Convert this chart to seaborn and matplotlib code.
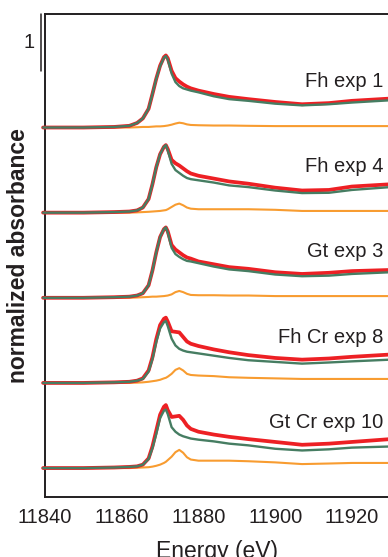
import matplotlib
matplotlib.use("Agg")
import matplotlib.pyplot as plt
import seaborn as sns
import pandas as pd

sns.set_style("white")
plt.rcParams['font.family'] = ['Liberation Sans', 'DejaVu Sans']

# ---- data ----
energy = [11839.5, 11850, 11858, 11862, 11864, 11865.5, 11867, 11868, 11869, 11870,
          11871, 11871.5, 11872, 11873, 11874, 11875, 11876, 11877, 11878, 11880,
          11884, 11888, 11893, 11900, 11907, 11914, 11920, 11930]

samples = ["Fh exp 1", "Fh exp 4", "Gt exp 3", "Fh Cr exp 8", "Gt Cr exp 10"]
offsets = [6.0, 4.5, 3.0, 1.5, 0.0]

measured = {
    "Fh exp 1":    [0, 0, 0.01, 0.03, 0.08, 0.16, 0.33, 0.59, 0.86, 1.09, 1.24, 1.27, 1.22, 1.00, 0.87, 0.81, 0.76, 0.72, 0.69, 0.65, 0.59, 0.54, 0.50, 0.45, 0.41, 0.43, 0.47, 0.51],
    "Fh exp 4":    [0, 0, 0.01, 0.02, 0.04, 0.09, 0.24, 0.50, 0.80, 1.03, 1.16, 1.19, 1.12, 0.93, 0.87, 0.83, 0.78, 0.73, 0.69, 0.65, 0.60, 0.55, 0.51, 0.44, 0.39, 0.40, 0.46, 0.50],
    "Gt exp 3":    [0, 0, 0.01, 0.02, 0.04, 0.08, 0.22, 0.48, 0.80, 1.07, 1.21, 1.24, 1.17, 0.93, 0.85, 0.80, 0.75, 0.71, 0.69, 0.64, 0.59, 0.54, 0.51, 0.45, 0.42, 0.44, 0.47, 0.49],
    "Fh Cr exp 8": [0, 0, 0.01, 0.02, 0.04, 0.08, 0.22, 0.45, 0.77, 1.02, 1.13, 1.15, 1.08, 0.91, 0.90, 0.89, 0.81, 0.73, 0.69, 0.65, 0.59, 0.54, 0.49, 0.44, 0.41, 0.43, 0.46, 0.50],
    "Gt Cr exp 10":[0, 0, 0.01, 0.02, 0.03, 0.06, 0.17, 0.38, 0.66, 0.94, 1.08, 1.11, 1.02, 0.90, 0.91, 0.92, 0.85, 0.75, 0.69, 0.64, 0.59, 0.55, 0.51, 0.46, 0.41, 0.43, 0.46, 0.51],
}
component_a = {
    "Fh exp 1":    [0, 0, 0.01, 0.03, 0.08, 0.16, 0.33, 0.59, 0.86, 1.08, 1.23, 1.26, 1.20, 0.95, 0.80, 0.73, 0.69, 0.67, 0.65, 0.62, 0.55, 0.50, 0.47, 0.42, 0.39, 0.41, 0.44, 0.48],
    "Fh exp 4":    [0, 0, 0.01, 0.02, 0.04, 0.09, 0.24, 0.50, 0.80, 1.03, 1.16, 1.19, 1.10, 0.86, 0.75, 0.70, 0.65, 0.61, 0.59, 0.57, 0.53, 0.48, 0.45, 0.39, 0.345, 0.35, 0.40, 0.45],
    "Gt exp 3":    [0, 0, 0.01, 0.02, 0.04, 0.08, 0.22, 0.48, 0.80, 1.07, 1.21, 1.24, 1.15, 0.88, 0.77, 0.72, 0.68, 0.65, 0.64, 0.61, 0.55, 0.50, 0.47, 0.41, 0.38, 0.39, 0.42, 0.45],
    "Fh Cr exp 8": [0, 0, 0.01, 0.02, 0.04, 0.07, 0.20, 0.42, 0.72, 0.96, 1.07, 1.09, 1.00, 0.78, 0.66, 0.60, 0.57, 0.55, 0.54, 0.52, 0.48, 0.44, 0.40, 0.37, 0.34, 0.36, 0.38, 0.41],
    "Gt Cr exp 10":[0, 0, 0.01, 0.02, 0.03, 0.06, 0.16, 0.35, 0.60, 0.88, 1.01, 1.03, 0.95, 0.72, 0.64, 0.59, 0.56, 0.54, 0.52, 0.50, 0.47, 0.43, 0.40, 0.34, 0.31, 0.33, 0.36, 0.38],
}
component_b = {
    "Fh exp 1":    [0, 0, 0, 0, 0.005, 0.01, 0.01, 0.015, 0.02, 0.02, 0.025, 0.03, 0.035, 0.05, 0.07, 0.085, 0.075, 0.055, 0.045, 0.04, 0.035, 0.035, 0.03, 0.025, 0.025, 0.025, 0.025, 0.025],
    "Fh exp 4":    [0, 0, 0, 0, 0.005, 0.01, 0.015, 0.02, 0.025, 0.03, 0.04, 0.045, 0.06, 0.10, 0.14, 0.16, 0.13, 0.09, 0.07, 0.06, 0.06, 0.06, 0.06, 0.05, 0.03, 0.03, 0.03, 0.03],
    "Gt exp 3":    [0, 0, 0, 0, 0.005, 0.01, 0.015, 0.02, 0.02, 0.025, 0.03, 0.035, 0.04, 0.06, 0.10, 0.12, 0.10, 0.07, 0.05, 0.045, 0.045, 0.04, 0.04, 0.03, 0.03, 0.03, 0.03, 0.03],
    "Fh Cr exp 8": [0, 0, 0, 0, 0.005, 0.01, 0.02, 0.03, 0.04, 0.055, 0.08, 0.09, 0.11, 0.16, 0.23, 0.26, 0.22, 0.16, 0.14, 0.13, 0.12, 0.10, 0.09, 0.08, 0.07, 0.07, 0.07, 0.07],
    "Gt Cr exp 10":[0, 0, 0, 0, 0.005, 0.01, 0.015, 0.025, 0.04, 0.06, 0.09, 0.11, 0.14, 0.20, 0.28, 0.32, 0.27, 0.19, 0.15, 0.13, 0.13, 0.13, 0.12, 0.10, 0.07, 0.08, 0.09, 0.09],
}

xticks = [11840, 11860, 11880, 11900, 11920]
yticks = [0, 1, 2, 3, 4, 5, 6, 7]

RED = "#ed2024"
GREEN = "#467d62"
ORANGE = "#f89c30"
INK = "#231f20"

# ---- figure ----
fig = plt.figure(figsize=(3.88, 5.57), dpi=100)
ax = fig.add_axes([45 / 388, 1 - 497 / 557, 343 / 388, 483 / 557])

for name, off in zip(samples, offsets):
    df = pd.DataFrame({
        "energy": energy,
        "meas": [v + off for v in measured[name]],
        "a": [v + off for v in component_a[name]],
        "b": [v + off for v in component_b[name]],
    })
    sns.lineplot(data=df, x="energy", y="b", color=ORANGE, lw=1.5, ax=ax, clip_on=False, zorder=2)
    sns.lineplot(data=df, x="energy", y="meas", color=RED, lw=2.7, ax=ax, clip_on=False, zorder=3)
    sns.lineplot(data=df, x="energy", y="a", color=GREEN, lw=1.7, ax=ax, clip_on=False, zorder=4)
    ax.text(11928.2, off + 0.71, name, ha="right", va="baseline", fontsize=14.5, color=INK)

ax.set_xlim(11840, 11929.4)
ax.set_ylim(-0.51, 8.0)
ax.set_xticks(xticks)
ax.set_xticklabels([str(t) for t in xticks])
ax.set_yticks(yticks)
ax.set_yticklabels([])
ax.tick_params(axis="both", direction="in", length=5, width=1.3, color=INK,
               labelsize=14.5, labelcolor=INK)
ax.tick_params(axis="x", pad=8)

for side in ["left", "top", "bottom"]:
    ax.spines[side].set_visible(True)
    ax.spines[side].set_linewidth(1.4)
    ax.spines[side].set_color(INK)
ax.spines["right"].set_visible(False)

ax.set_xlabel("Energy (eV)", fontsize=16.5, color=INK, labelpad=9)
ax.set_ylabel("normalized absorbance", fontsize=16.5, fontweight="bold", color=INK)
ax.yaxis.set_label_coords(-0.043, 0.50)

# scale bar of 1 unit
ax.plot([11838.95, 11838.95], [7.0, 8.0], color=INK, lw=1.1, clip_on=False)
ax.text(11837.3, 7.5, "1", ha="right", va="center", fontsize=14.5, color=INK)

fig.savefig("out.png", dpi=100)
